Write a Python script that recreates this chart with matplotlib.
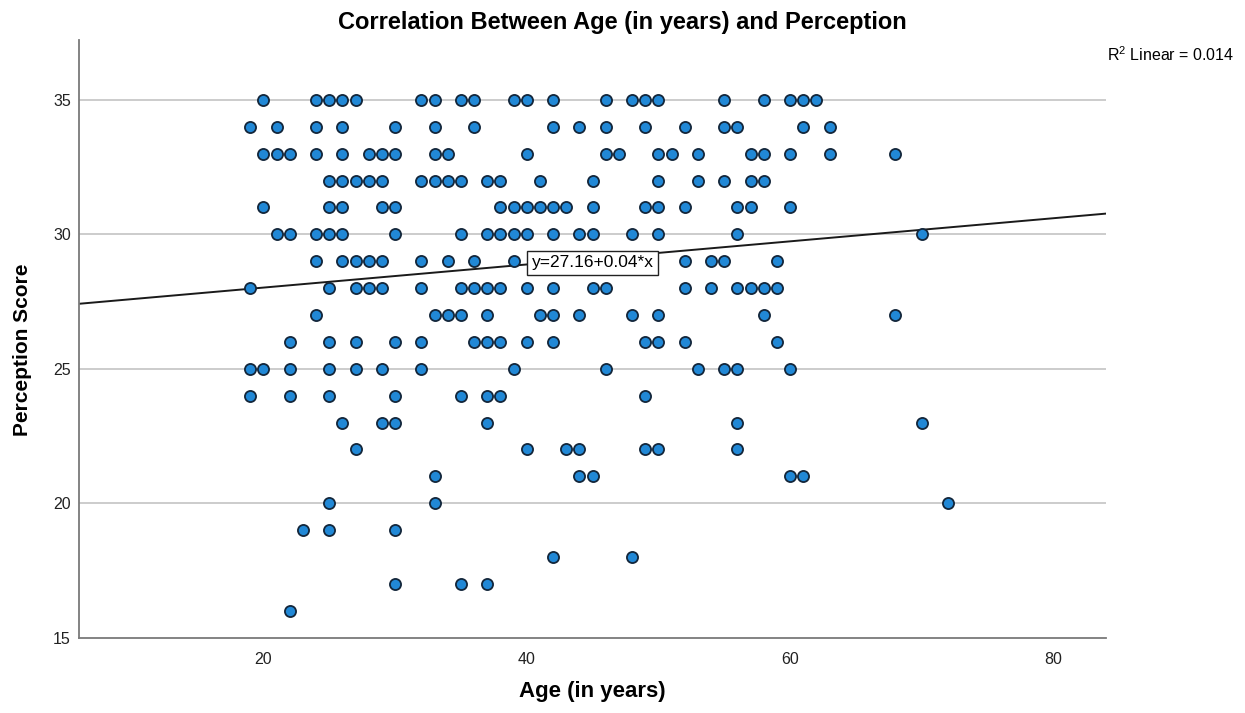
#!/usr/bin/env python3
"""Scatter of perception score against age, with linear fit (SPSS-style)."""
import numpy as np
import matplotlib
matplotlib.use("Agg")
import matplotlib.pyplot as plt

plt.rcParams["font.family"] = ["Liberation Sans", "DejaVu Sans"]
plt.rcParams["mathtext.fontset"] = "custom"
plt.rcParams["mathtext.rm"] = "Liberation Sans"

# Perception score levels and the ages observed at each level
score_levels = [35, 34, 33, 32, 31, 30, 29, 28, 27, 26, 25, 24, 23, 22, 21, 20, 19, 18, 17, 16]
ages_at_score = [
    [20, 24, 25, 26, 27, 32, 33, 35, 36, 39, 40, 42, 46, 48, 49, 50, 55, 58, 60, 61, 62],
    [19, 21, 24, 26, 30, 33, 36, 42, 44, 46, 49, 52, 55, 56, 61, 63],
    [20, 21, 22, 24, 26, 28, 29, 30, 33, 34, 40, 46, 47, 50, 51, 53, 57, 58, 60, 63, 68],
    [25, 26, 27, 28, 29, 32, 33, 34, 35, 37, 38, 41, 45, 50, 53, 55, 57, 58],
    [20, 25, 26, 29, 30, 38, 39, 40, 41, 42, 43, 45, 49, 50, 52, 56, 57, 60],
    [21, 22, 24, 25, 26, 30, 35, 37, 38, 39, 40, 42, 44, 45, 48, 50, 56, 70],
    [24, 26, 27, 28, 29, 32, 34, 36, 39, 52, 54, 55, 59],
    [19, 25, 27, 28, 29, 32, 35, 36, 37, 38, 40, 42, 45, 46, 52, 54, 56, 57, 58, 59],
    [24, 33, 34, 35, 37, 41, 42, 44, 48, 50, 58, 68],
    [22, 25, 27, 30, 32, 36, 37, 38, 40, 42, 49, 50, 52, 59],
    [19, 20, 22, 25, 27, 29, 32, 39, 46, 53, 55, 56, 60],
    [19, 22, 25, 30, 35, 37, 38, 49],
    [26, 29, 30, 37, 56, 70],
    [27, 40, 43, 44, 49, 50, 56],
    [33, 44, 45, 60, 61],
    [25, 33, 72],
    [23, 25, 30],
    [42, 48],
    [30, 35, 37],
    [22],
]

# fit line
fit_intercept = 27.16
fit_slope = 0.043
fit_label = "y=27.16+0.04*x"
r2_label = "R$^2$ Linear = 0.014"

x_ticks = [20, 40, 60, 80]
y_ticks = [15, 20, 25, 30, 35]

age = np.concatenate([np.array(a, dtype=float) for a in ages_at_score])
score = np.concatenate([np.full(len(a), s, dtype=float) for s, a in zip(score_levels, ages_at_score)])

fig = plt.figure(figsize=(12.45, 7.13), dpi=100)
ax = fig.add_axes([0.0635, 0.1056, 0.825, 0.8384])

ax.set_xlim(6, 84)
ax.set_ylim(15, 37.23)

for yv in y_ticks[1:]:
    ax.axhline(yv, color="#c8c8c8", linewidth=1.3, zorder=0)

xs = np.array(ax.get_xlim())
ax.plot(xs, fit_intercept + fit_slope * xs, color="#1a1a1a", linewidth=1.4, zorder=2)

ax.scatter(age, score, s=64, facecolor="#2188d6", edgecolor="#13263a", linewidth=1.3, zorder=3)

ax.text(45.0, 28.94, fit_label, fontsize=12.5, ha="center", va="center", zorder=4,
        bbox=dict(boxstyle="square,pad=0.25", facecolor="white", edgecolor="#222222", linewidth=1.0))

for side in ["top", "right"]:
    ax.spines[side].set_visible(False)
for side in ["left", "bottom"]:
    ax.spines[side].set_color("#7a7a7a")
    ax.spines[side].set_linewidth(1.3)

ax.set_xticks(x_ticks)
ax.set_yticks(y_ticks)
ax.tick_params(axis="both", length=0, labelsize=11.5, colors="#222222")
ax.tick_params(axis="x", pad=10)
ax.tick_params(axis="y", pad=6)

ax.set_xlabel("Age (in years)", fontsize=16, fontweight="bold")
ax.xaxis.set_label_coords(0.5, -0.072)
ax.set_ylabel("Perception Score", fontsize=15, fontweight="bold")
ax.yaxis.set_label_coords(-0.046, 0.481)

fig.text(0.5, 0.968, "Correlation Between Age (in years) and Perception", fontsize=17,
         fontweight="bold", ha="center", va="center")
fig.text(0.889, 0.923, r2_label, fontsize=11.5, ha="left", va="center")

fig.savefig("out.png", dpi=100)
